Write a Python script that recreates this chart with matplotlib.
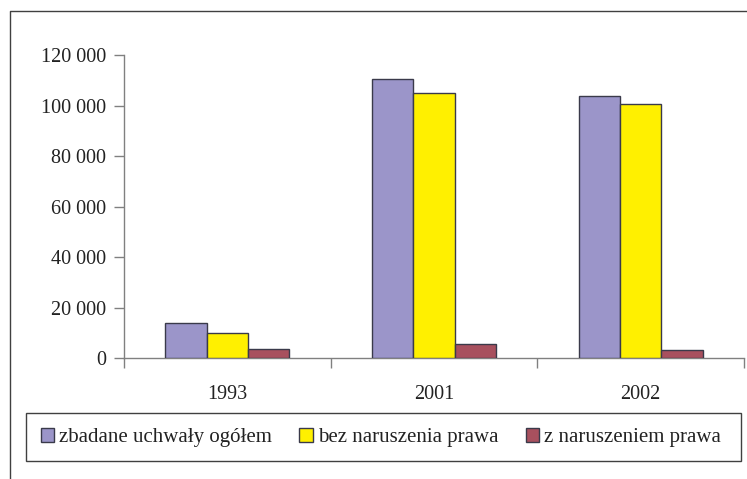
import matplotlib
matplotlib.use("Agg")
import matplotlib.pyplot as plt
from matplotlib.lines import Line2D
from matplotlib.patches import Rectangle
import numpy as np

years = ["1993", "2001", "2002"]
series_names = ["zbadane uchwały ogółem", "bez naruszenia prawa", "z naruszeniem prawa"]
total = [13900, 110500, 103900]
no_violation = [10100, 105000, 100600]
violation = [3600, 5500, 3150]
colors = ["#9B95C9", "#FFF000", "#A8505E"]
yticks = [0, 20000, 40000, 60000, 80000, 100000, 120000]

plt.rcParams['font.family'] = ['Liberation Serif', 'DejaVu Serif']

W, H = 747, 479
fig = plt.figure(figsize=(W / 100, H / 100), dpi=100)
ax = fig.add_axes([124 / W, 1 - 358.3 / H, (744 - 124) / W, (358.3 - 55.3) / H])

x = np.arange(len(years))
bw = 0.2
for i, (vals, c, name) in enumerate(zip([total, no_violation, violation], colors, series_names)):
    ax.bar(x + (i - 1) * bw, vals, width=bw, color=c, edgecolor="#3a3a4a",
           linewidth=1.0, label=name, zorder=3)

ax.set_xlim(-0.5, len(years) - 0.5)
ax.set_ylim(0, 120000)
ax.set_yticks(yticks)
ax.set_yticklabels([f"{v:,}".replace(",", " ") for v in yticks])
ax.set_xticks(x)
ax.set_xticklabels(years)
ax.set_xticks(np.arange(len(years) + 1) - 0.5, minor=True)
ax.tick_params(axis="x", which="major", length=0, pad=19.5, labelsize=14.5, labelcolor="#222222")
ax.tick_params(axis="x", which="minor", length=7, width=1, color="#808080", direction="out")
ax.tick_params(axis="y", length=7, width=1, color="#808080", direction="out", pad=6,
               labelsize=14.5, labelcolor="#222222")

for s in ["top", "right"]:
    ax.spines[s].set_visible(False)
for s in ["left", "bottom"]:
    ax.spines[s].set_color("#808080")
    ax.spines[s].set_linewidth(1.0)

# Outer frame (top and left visible)
fig.add_artist(Line2D([10 / W, 10 / W, 1.0], [0.0, 1 - 11 / H, 1 - 11 / H],
                      transform=fig.transFigure, color="#404040", linewidth=1.0))

# Legend box
fig.add_artist(Rectangle((26 / W, 1 - 461 / H), (741 - 26) / W, (461 - 413) / H,
                         transform=fig.transFigure, fill=False, edgecolor="#404040", linewidth=1.0))
handles, labels = ax.get_legend_handles_labels()
fig.legend(handles, labels, loc="center", bbox_to_anchor=(381 / W, 1 - 437.5 / H),
           ncol=3, frameon=False, fontsize=15, handlelength=0.65, handleheight=0.65,
           handletextpad=0.25, columnspacing=1.3, labelcolor="#222222")

fig.savefig("out.png", dpi=100)
